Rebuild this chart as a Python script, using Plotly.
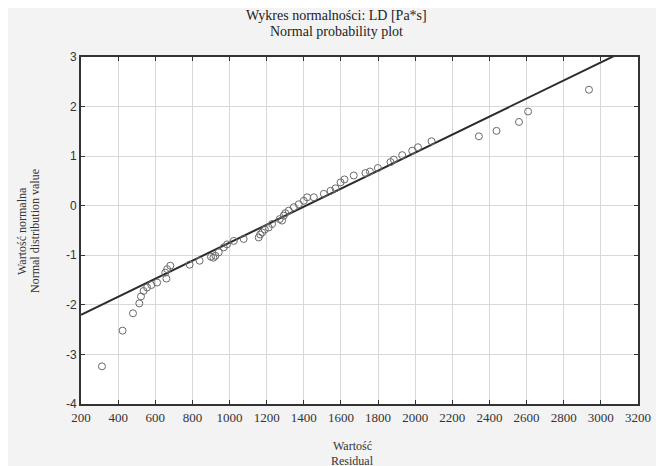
import plotly.graph_objects as go

# Observed residual values (x) and normal distribution values (y)
residual = [313, 424, 480, 514, 523, 537, 556, 579, 610, 654, 660, 664, 681,
            785, 839, 900, 913, 924, 942, 969, 987, 1023, 1076, 1157, 1165, 1176,
            1190, 1211, 1229, 1270, 1283, 1292, 1300, 1319, 1346, 1373, 1400,
            1418, 1454, 1508, 1544, 1571, 1598, 1619, 1669, 1732, 1756, 1799,
            1867, 1885, 1930, 1984, 2015, 2088, 2343, 2438, 2559, 2608, 2936]
normal_value = [-3.24, -2.52, -2.17, -1.97, -1.83, -1.72, -1.65, -1.60, -1.55, -1.35,
                -1.47, -1.28, -1.21, -1.19, -1.11, -1.03, -1.05, -1.01, -0.94, -0.84,
                -0.78, -0.71, -0.67, -0.64, -0.58, -0.54, -0.48, -0.44, -0.37, -0.27,
                -0.30, -0.20, -0.15, -0.10, -0.03, 0.03, 0.10, 0.17, 0.17, 0.24,
                0.30, 0.35, 0.47, 0.53, 0.61, 0.66, 0.69, 0.76, 0.88, 0.93,
                1.02, 1.11, 1.18, 1.30, 1.40, 1.51, 1.69, 1.90, 2.34]

# Reference normal line: y = (x - mean) / sd
line_x = [200, 3200]
fit_mean = 1410
fit_sd = 550
line_y = [(v - fit_mean) / fit_sd for v in line_x]

x_ticks = list(range(200, 3201, 200))
y_ticks = [-4, -3, -2, -1, 0, 1, 2, 3]

fig = go.Figure()
fig.add_trace(go.Scatter(x=line_x, y=line_y, mode="lines",
                         line=dict(color="#2b2b2b", width=2), hoverinfo="skip"))
fig.add_trace(go.Scatter(x=residual, y=normal_value, mode="markers",
                         marker=dict(symbol="circle-open", size=7,
                                     color="#6a6a6a", line=dict(width=1))))

W, H = 664, 466
OFF = 8  # page offset of the figure in the screenshot
# plot area in screenshot pixels: left 81, right 638, top 57, bottom 404
ml = 81 - OFF
mt = 57 - OFF
mr = W - (638 - OFF)
mb = H - (404 - OFF)
pw = W - ml - mr
ph = H - mt - mb

serif = "Liberation Serif"
sans = "Liberation Sans"

fig.update_layout(
    width=W, height=H,
    margin=dict(l=ml, r=mr, t=mt, b=mb, pad=0),
    paper_bgcolor="#f3f3f3",
    plot_bgcolor="#ffffff",
    showlegend=False,
    xaxis=dict(range=[200, 3200], tickvals=x_ticks, ticktext=[str(t) for t in x_ticks],
               showgrid=True, gridcolor="#d9d9d9", gridwidth=1,
               zeroline=False, showline=True, linecolor="#333333", linewidth=2,
               mirror="ticks", ticks="inside", ticklen=4, tickcolor="#333333",
               tickfont=dict(family=serif, size=13, color="#333333")),
    yaxis=dict(range=[-4, 3], tickvals=y_ticks, ticktext=[str(t) for t in y_ticks],
               showgrid=True, gridcolor="#d9d9d9", gridwidth=1,
               zeroline=False, showline=True, linecolor="#333333", linewidth=2,
               mirror="ticks", ticks="inside", ticklen=4, tickcolor="#333333",
               tickfont=dict(family=sans, size=12, color="#333333")),
)

def px_x(p):
    # screenshot pixel -> paper fraction
    return (p - OFF - ml) / pw

def px_y(p):
    return (H - mb - (p - OFF)) / ph

def label(text, x, y, size=12, angle=0, color="#333333"):
    return dict(text=text, x=px_x(x), y=px_y(y), xref="paper", yref="paper",
                xanchor="center", yanchor="middle", showarrow=False, textangle=angle,
                font=dict(family=serif, size=size, color=color))

annotations = [
    label("Wykres normalności: LD [Pa*s]", 336, 15, 14, color="#222222"),
    label("Normal probability plot", 336, 31, 14, color="#222222"),
    label("Wartość", 352, 446),
    label("Residual", 352, 461),
    label("Wartość normalna", 22, 231, angle=-90),
    label("Normal distribution value", 35, 231, angle=-90),
]
fig.update_layout(annotations=annotations)

fig.write_html("out.html")
